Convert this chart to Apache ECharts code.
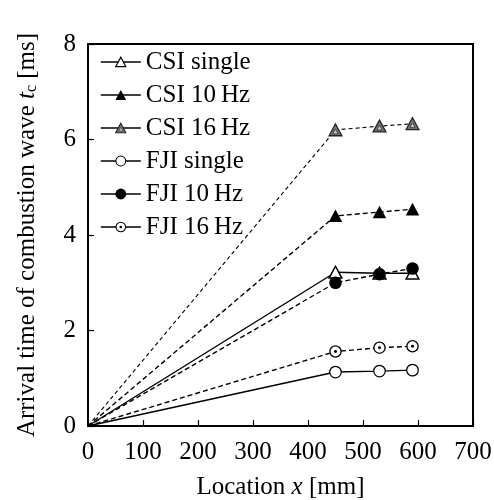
<!DOCTYPE html>
<html><head><meta charset="utf-8">
<script src="https://cdn.jsdelivr.net/npm/echarts@6/dist/echarts.min.js"></script>
<style>html,body{margin:0;padding:0;background:#fff}#c{width:494px;height:500px}</style>
</head><body><div id="c"></div>
<script>
const xTicks = [0, 100, 200, 300, 400, 500, 600, 700];
const yTicks = [0, 2, 4, 6, 8];
const locations = [0, 450, 530, 590];
const seriesNames = ['CSI single', 'CSI 10\u2009Hz', 'CSI 16\u2009Hz', 'FJI single', 'FJI 10\u2009Hz', 'FJI 16\u2009Hz'];
const csiSingle = [0, 3.22, 3.2, 3.2];
const csi10 = [0, 4.4, 4.48, 4.54];
const csi16 = [0, 6.2, 6.28, 6.33];
const fjiSingle = [0, 1.13, 1.15, 1.17];
const fji10 = [0, 3.0, 3.18, 3.3];
const fji16 = [0, 1.56, 1.64, 1.67];

const FONT = "'Liberation Serif','Times New Roman',serif";
function svgSym(body){
  const s = "<svg xmlns='http://www.w3.org/2000/svg' width='32' height='32' viewBox='0 0 16 16'>" + body + "</svg>";
  return 'image://data:image/svg+xml;charset=utf-8,' + encodeURIComponent(s);
}
const symOpenTri = svgSym("<polygon points='8,1.6 14.8,14.2 1.2,14.2' fill='#fff' stroke='#000' stroke-width='1.6' stroke-linejoin='miter'/>");
const symFillTri = svgSym("<polygon points='8,1.2 15.2,14.6 0.8,14.6' fill='#000'/>");
const symGrayTri = svgSym("<polygon points='8,1.6 14.8,14.2 1.2,14.2' fill='#7a7a7a' stroke='#222' stroke-width='1.4'/><polygon points='8,7 10.9,12.2 5.1,12.2' fill='#c8c8c8' stroke='#333' stroke-width='0.9'/>");
const symOpenCir = svgSym("<circle cx='8' cy='8' r='6.6' fill='#fff' stroke='#000' stroke-width='1.4'/>");
const symFillCir = svgSym("<circle cx='8' cy='8' r='7.2' fill='#000'/>");
const symDotCir = svgSym("<circle cx='8' cy='8' r='6.4' fill='#fff' stroke='#000' stroke-width='1.5'/><circle cx='8' cy='8' r='1.7' fill='#000'/>");

const valueSets = [csiSingle, csi10, csi16, fjiSingle, fji10, fji16];
const syms = [symOpenTri, symFillTri, symGrayTri, symOpenCir, symFillCir, symDotCir];
const lineTypes = ['solid', [5,3], [4,3], 'solid', [5,3], [5,3]];
const sizes = [15, 15, 15, 14, 14, 14];

const series = seriesNames.map((n, i) => ({
  name: n, type: 'line',
  data: locations.map((x, j) => [x, valueSets[i][j]]),
  symbol: syms[i], symbolSize: sizes[i],
  showSymbol: true,
  lineStyle: {color: '#000', width: i === 2 ? 1.1 : 1.4, type: lineTypes[i]},
  itemStyle: {color: '#000'},
  z: 2 + i
}));
series.forEach(s => { s.data[0] = {value: s.data[0], symbol: 'none'}; });

const chart = echarts.init(document.getElementById('c'), null, {renderer: 'canvas'});
chart.setOption({
  animation: false,
  backgroundColor: '#fff',
  grid: {left: 88, right: 21, top: 44, bottom: 74, show: true, borderColor: '#000', borderWidth: 2, containLabel: false, outerBoundsMode: 'none'},
  legend: {
    orient: 'vertical', left: 95, top: 44, itemWidth: 40, itemHeight: 15, itemGap: 7,
    data: seriesNames,
    textStyle: {fontFamily: FONT, fontSize: 25, color: '#000', lineHeight: 26},
    lineStyle: {type: 'solid', width: 1.6, color: '#000'}
  },
  xAxis: {
    type: 'value', min: xTicks[0], max: xTicks[xTicks.length-1], interval: 100,
    name: '{n|Location }{i|x}{n| [mm]}', nameLocation: 'middle', nameGap: 49,
    nameTextStyle: {rich: {n: {fontFamily: FONT, fontSize: 25, color: '#000'}, i: {fontFamily: FONT, fontSize: 25, fontStyle: 'italic', color: '#000'}}},
    axisLine: {show: true, lineStyle: {color: '#000', width: 2}},
    axisTick: {show: true, inside: true, length: 6, lineStyle: {color: '#000', width: 1.2}},
    axisLabel: {fontFamily: FONT, fontSize: 25, color: '#000', margin: 14},
    splitLine: {show: false}
  },
  yAxis: {
    type: 'value', min: yTicks[0], max: yTicks[yTicks.length-1], interval: 2,
    name: '{n|Arrival time of combustion wave }{i|t}{s|c}{n| [ms]}', nameLocation: 'middle', nameGap: 48,
    nameTextStyle: {rich: {
      n: {fontFamily: FONT, fontSize: 25, color: '#000'},
      i: {fontFamily: FONT, fontSize: 25, fontStyle: 'italic', color: '#000'},
      s: {fontFamily: FONT, fontSize: 16, color: '#000', padding: [10, 0, 0, 0]}
    }},
    axisLine: {show: true, lineStyle: {color: '#000', width: 2}},
    axisTick: {show: true, inside: true, length: 6, lineStyle: {color: '#000', width: 1.2}},
    axisLabel: {fontFamily: FONT, fontSize: 25, color: '#000', margin: 12},
    splitLine: {show: false}
  },
  series: series
});
</script></body></html>
